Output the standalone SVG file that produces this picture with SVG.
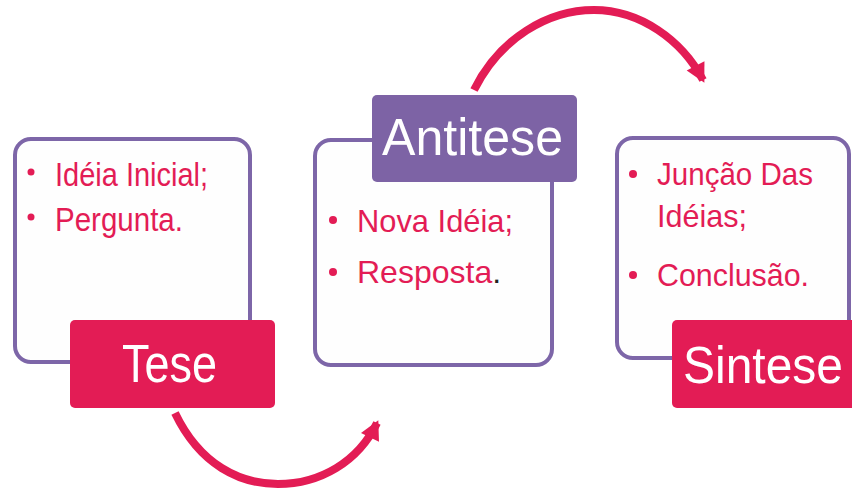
<svg xmlns="http://www.w3.org/2000/svg" width="852" height="488" viewBox="0 0 852 488">
<style>
.frame{fill:#fefefe;stroke:#7d66a8;stroke-width:4}
.red{fill:#e31c55}
.purple{fill:#7d63a5}
.lbl{fill:#ffffff;font-family:"Liberation Sans",Arial,sans-serif}
.bt{fill:#e31c55;font-family:"Liberation Sans",Arial,sans-serif}
.dot{fill:#e31c55}
.arc{fill:none;stroke:#e31c55;stroke-width:8}
</style>
<defs>
<marker id="ah" markerUnits="userSpaceOnUse" markerWidth="30" markerHeight="30" viewBox="0 0 30 30" refX="18" refY="15" orient="auto">
<path d="M2,5 L21,15 L2,25 Z" fill="#e31c55"/>
</marker>
</defs>
<rect width="852" height="488" fill="#ffffff"/>
<g id="connectors">
<path class="arc" d="M175,413 C200,465 240,484 278,484 C320,484 358,462 377,423" marker-end="url(#ah)"/>
<path class="arc" d="M474,90 C500,38 548,10 594,10 C640,10 682,40 703,80" marker-end="url(#ah)"/>
</g>
<g id="tese">
<rect class="frame" x="15" y="139" width="235" height="223" rx="16"/>
<circle class="dot" cx="31" cy="172" r="3.5"/>
<text class="bt" x="55" y="186" font-size="34" textLength="153" lengthAdjust="spacingAndGlyphs">Idéia Inicial;</text>
<circle class="dot" cx="31" cy="217" r="3.5"/>
<text class="bt" x="55" y="231" font-size="34" textLength="128" lengthAdjust="spacingAndGlyphs">Pergunta.</text>
<rect class="red" x="70" y="320" width="205" height="88" rx="5"/>
<text class="lbl" x="122" y="382" font-size="54" textLength="95" lengthAdjust="spacingAndGlyphs">Tese</text>
</g>
<g id="antitese">
<rect class="frame" x="315" y="140" width="237" height="225" rx="16"/>
<circle class="dot" cx="333" cy="220" r="4"/>
<text class="bt" x="357" y="232" font-size="32" textLength="156" lengthAdjust="spacingAndGlyphs">Nova Idéia;</text>
<circle class="dot" cx="333" cy="272" r="4"/>
<text class="bt" x="357" y="283" font-size="32">Resposta<tspan fill="#222222">.</tspan></text>
<rect class="purple" x="372" y="95" width="205" height="87" rx="5"/>
<text class="lbl" x="382" y="155" font-size="52" textLength="181" lengthAdjust="spacingAndGlyphs">Antitese</text>
</g>
<g id="sintese">
<rect class="frame" x="617" y="138" width="232" height="220" rx="16"/>
<circle class="dot" cx="633" cy="174" r="4"/>
<text class="bt" x="657" y="185" font-size="32" textLength="156" lengthAdjust="spacingAndGlyphs">Junção Das</text>
<text class="bt" x="657" y="227" font-size="32" textLength="90" lengthAdjust="spacingAndGlyphs">Idéias;</text>
<circle class="dot" cx="633" cy="275" r="4"/>
<text class="bt" x="657" y="286" font-size="32" textLength="152" lengthAdjust="spacingAndGlyphs">Conclusão.</text>
<rect class="red" x="672" y="320" width="190" height="88" rx="5"/>
<text class="lbl" x="683" y="383" font-size="52" textLength="160" lengthAdjust="spacingAndGlyphs">Sintese</text>
</g>
</svg>
